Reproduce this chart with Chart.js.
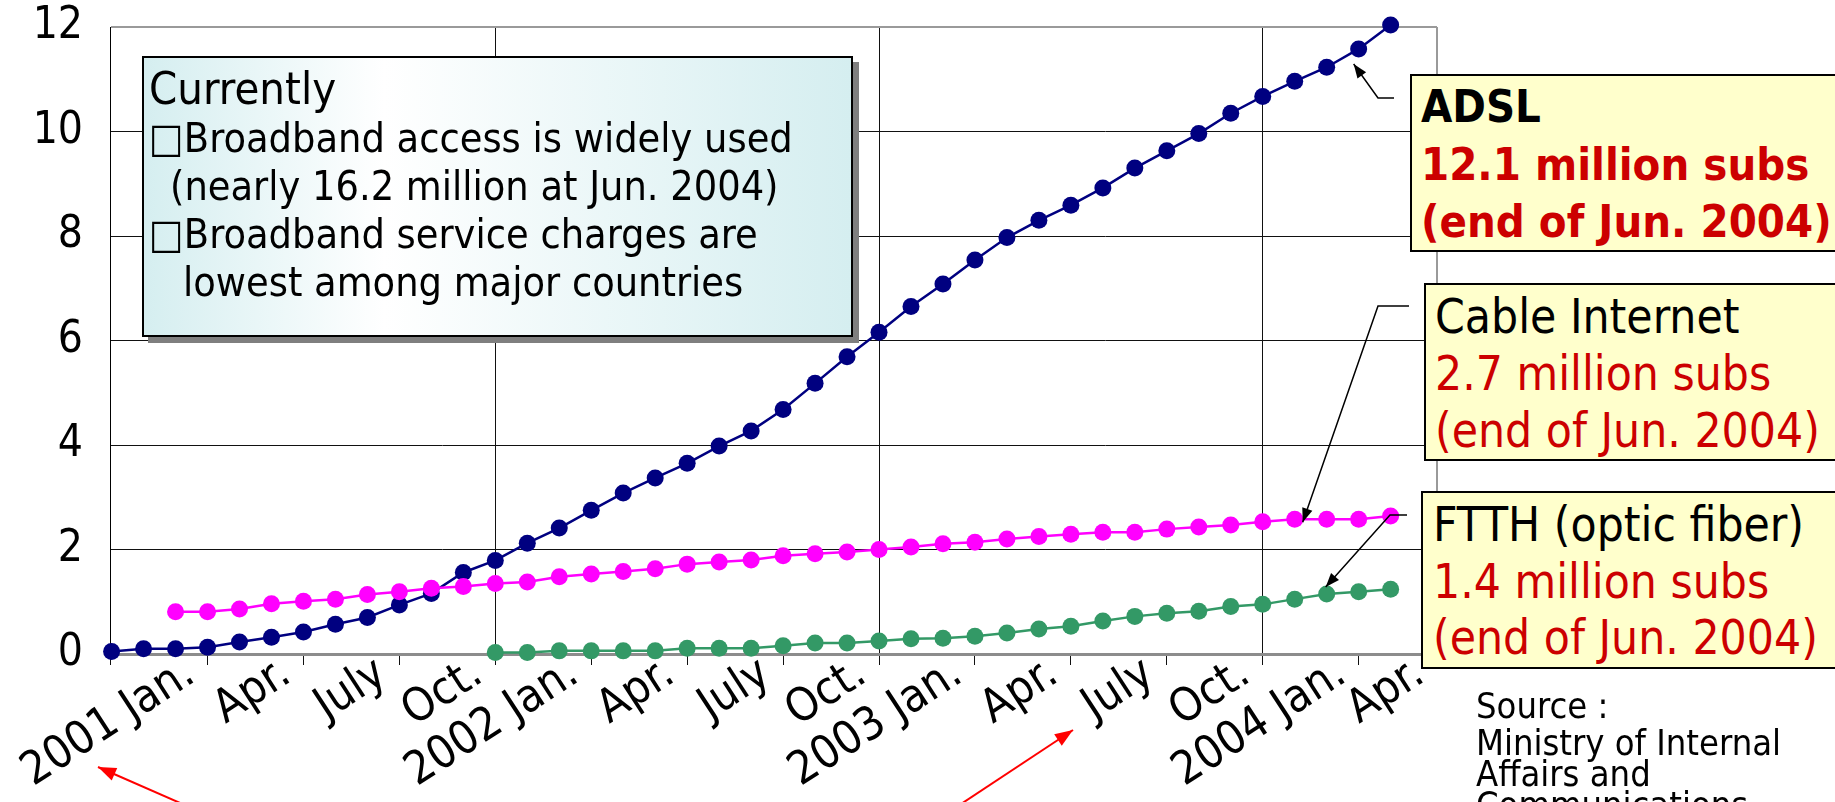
<!DOCTYPE html>
<html>
<head>
<meta charset="utf-8">
<title>Broadband subscribers</title>
<script src="https://cdn.jsdelivr.net/npm/chart.js@4.4.1/dist/chart.umd.min.js"></script>
<style>
  html, body { margin: 0; padding: 0; background: #fff; overflow: hidden; }
  #wrap { position: relative; width: 1835px; height: 802px; overflow: hidden;
    font-family: 'DejaVu Sans Condensed', 'Liberation Sans', Arial, sans-serif; color: #000; }
  #chart { position: absolute; left: 0; top: 0; }
  .box { position: absolute; box-sizing: border-box; border: 2px solid #000; white-space: nowrap; }
  #current { left: 142px; top: 56px; width: 711px; height: 281px; padding: 6px 0 0 5px;
    background: linear-gradient(to right, #d5eef0 0%, #ffffff 34%, #d5eef0 100%);
    box-shadow: 6px 6px 0 #7f7f7f; font-size: 41px; line-height: 48.3px; }
  #current .head { font-size: 45px; line-height: 49.5px; }
  .callout { background: #ffffcc; font-size: 47.5px; width: 460px; height: 178px; }
  .red { color: #cc0000; }
  #adsl { left: 1410px; top: 74px; padding: 2px 0 0 9px; line-height: 57.5px; font-weight: bold; font-size: 45px; }
  #cable { left: 1424px; top: 283px; padding: 3px 0 0 9px; line-height: 57px; }
  #ftth { left: 1421px; top: 491px; padding: 4px 0 0 10px; line-height: 56.5px; }
  #source { position: absolute; left: 1476px; top: 685px; font-size: 36px; line-height: 31px; white-space: nowrap; }
  #source .head { line-height: 42px; }
</style>
</head>
<body>
<div id="wrap">
  <canvas id="chart" width="1835" height="802"></canvas>

  <div class="box" id="current">
    <div class="head">Currently</div>
    <div>□Broadband access is widely used</div>
    <div style="padding-left:21px">(nearly 16.2 million at Jun. 2004)</div>
    <div>□Broadband service charges are</div>
    <div style="padding-left:34px">lowest among major countries</div>
  </div>

  <div class="box callout" id="adsl">
    <div>ADSL</div>
    <div class="red">12.1 million subs</div>
    <div class="red">(end of Jun. 2004)</div>
  </div>
  <div class="box callout" id="cable">
    <div>Cable Internet</div>
    <div class="red">2.7 million subs</div>
    <div class="red">(end of Jun. 2004)</div>
  </div>
  <div class="box callout" id="ftth">
    <div>FTTH (optic fiber)</div>
    <div class="red">1.4 million subs</div>
    <div class="red">(end of Jun. 2004)</div>
  </div>

  <div id="source">
    <div class="head">Source :</div>
    <div>Ministry of Internal</div>
    <div>Affairs and</div>
    <div>Communications</div>
  </div>
</div>

<script>
// subscribers in millions, one value per month (index 0 = first month on the axis)
const adsl = [0.05, 0.10, 0.10, 0.13, 0.23, 0.32, 0.42, 0.57, 0.70, 0.94, 1.16, 1.56,
              1.79, 2.12, 2.41, 2.75, 3.08, 3.37, 3.65, 3.98, 4.27, 4.68, 5.18, 5.69,
              6.16, 6.65, 7.08, 7.54, 7.97, 8.30, 8.59, 8.92, 9.30, 9.63, 9.96, 10.35,
              10.67, 10.96, 11.23, 11.58, 12.04];
const cable = [null, null, 0.81, 0.81, 0.86, 0.96, 1.01, 1.05, 1.14, 1.19, 1.26, 1.29,
               1.35, 1.38, 1.48, 1.53, 1.58, 1.63, 1.72, 1.76, 1.80, 1.88, 1.92, 1.95,
               2.00, 2.05, 2.11, 2.14, 2.20, 2.25, 2.29, 2.33, 2.33, 2.39, 2.43, 2.47,
               2.53, 2.58, 2.58, 2.58, 2.64];
const ftth = [null, null, null, null, null, null, null, null, null, null, null, null,
              0.03, 0.03, 0.06, 0.06, 0.06, 0.06, 0.11, 0.11, 0.11, 0.16, 0.21, 0.21,
              0.25, 0.29, 0.30, 0.34, 0.40, 0.48, 0.53, 0.63, 0.72, 0.78, 0.82, 0.91,
              0.95, 1.05, 1.15, 1.19, 1.24];

// x axis: quarter ticks (month index) and their labels
const xMin = -0.05;
const xMax = 41.45;
const xTickPos = [xMin, 3, 6, 9, 12, 15, 18, 21, 24, 27, 30, 33, 36, 39, xMax];
const xTickLabels = ['', '2001 Jan.', 'Apr.', 'July', 'Oct.', '2002 Jan.', 'Apr.', 'July', 'Oct.',
                     '2003 Jan.', 'Apr.', 'July', 'Oct.', '2004 Jan.', 'Apr.'];
const yearLines = [12, 24, 36];
const yTicks = [0, 2, 4, 6, 8, 10, 12];

Chart.defaults.font.family = "'DejaVu Sans Condensed', 'Liberation Sans', Arial, sans-serif";

const toPoints = (series) => series
    .map((v, i) => ({ x: i, y: v }))
    .filter(p => p.y !== null);

// line with a filled head at the last point
function drawArrow(ctx, pts, color, width, head) {
    ctx.save();
    ctx.strokeStyle = color;
    ctx.fillStyle = color;
    ctx.lineWidth = width;
    ctx.beginPath();
    ctx.moveTo(pts[0][0], pts[0][1]);
    for (let i = 1; i < pts.length; i++) ctx.lineTo(pts[i][0], pts[i][1]);
    ctx.stroke();
    const [x1, y1] = pts[pts.length - 2];
    const [x2, y2] = pts[pts.length - 1];
    const a = Math.atan2(y2 - y1, x2 - x1);
    const w = head * 0.38;
    ctx.beginPath();
    ctx.moveTo(x2, y2);
    ctx.lineTo(x2 - head * Math.cos(a) + w * Math.sin(a), y2 - head * Math.sin(a) - w * Math.cos(a));
    ctx.lineTo(x2 - head * Math.cos(a) - w * Math.sin(a), y2 - head * Math.sin(a) + w * Math.cos(a));
    ctx.closePath();
    ctx.fill();
    ctx.restore();
}

const callouts = {
    id: 'callouts',
    afterDraw(chart) {
        const { ctx, scales: { x, y } } = chart;
        const at = (series, i, dx, dy) => [x.getPixelForValue(i) + dx, y.getPixelForValue(series[i]) + dy];
        drawArrow(ctx, [[1394, 98], [1378, 98], at(adsl, 39, -5, 15)], '#000', 1.5, 14);
        drawArrow(ctx, [[1409, 306], [1378, 306], at(cable, 37, 8, 3)], '#000', 1.5, 14);
        drawArrow(ctx, [[1407, 515], [1390, 515], at(ftth, 38, -1, -7)], '#000', 1.5, 14);
        // red pointers at the axis labels
        drawArrow(ctx, [[187, 806], [98, 767]], '#ff0000', 2, 18);
        drawArrow(ctx, [[958, 806], [1073, 730]], '#ff0000', 2, 18);
    }
};

const lineSet = (label, series, color, order) => ({
    label: label,
    data: toPoints(series),
    borderColor: color,
    backgroundColor: color,
    borderWidth: 2.5,
    pointRadius: 8.5,
    pointBorderWidth: 0,
    pointBackgroundColor: color,
    tension: 0,
    clip: false,
    order: order
});

new Chart(document.getElementById('chart'), {
    type: 'line',
    data: {
        datasets: [
            lineSet('ADSL', adsl, '#000080', 3),
            lineSet('Cable Internet', cable, '#ff00ff', 2),
            lineSet('FTTH (optic fiber)', ftth, '#339966', 1)
        ]
    },
    options: {
        responsive: false,
        animation: false,
        devicePixelRatio: 1,
        layout: { padding: { left: 0, top: 27, right: 398, bottom: 0 } },
        plugins: {
            legend: { display: false },
            tooltip: { enabled: false }
        },
        scales: {
            x: {
                type: 'linear',
                min: xMin,
                max: xMax,
                afterBuildTicks: (s) => { s.ticks = xTickPos.map(v => ({ value: v })); },
                afterFit: (s) => { s.height = 148; s.paddingLeft = 0; s.paddingRight = 0; },
                ticks: {
                    autoSkip: false,
                    minRotation: 33,
                    maxRotation: 33,
                    labelOffset: -17,
                    padding: -18,
                    color: '#000',
                    font: { size: 46 },
                    callback: (v, i) => xTickLabels[i]
                },
                grid: {
                    color: (c) => {
                        if (!c.tick) return 'transparent';
                        if (yearLines.includes(c.tick.value)) return '#111';
                        if (c.tick.value === xMax) return '#9a9a9a';
                        return 'transparent';
                    },
                    lineWidth: (c) => (c.tick && c.tick.value === xMax ? 2 : 1),
                    tickColor: '#111',
                    tickLength: 11,
                    tickWidth: 1
                },
                border: { color: '#8c8c8c', width: 3 }
            },
            y: {
                min: 0,
                max: 12,
                afterBuildTicks: (s) => { s.ticks = yTicks.map(v => ({ value: v })); },
                afterFit: (s) => { s.width = 110; s.paddingTop = 0; s.paddingBottom = 0; },
                ticks: { padding: 27, color: '#000', font: { size: 44 } },
                grid: {
                    drawTicks: false,
                    color: (c) => (c.tick && c.tick.value === 12 ? '#9a9a9a' : '#111'),
                    lineWidth: (c) => (c.tick && c.tick.value === 12 ? 2 : 1)
                },
                border: { color: '#000', width: 1 }
            }
        }
    },
    plugins: [callouts]
});
</script>
</body>
</html>
